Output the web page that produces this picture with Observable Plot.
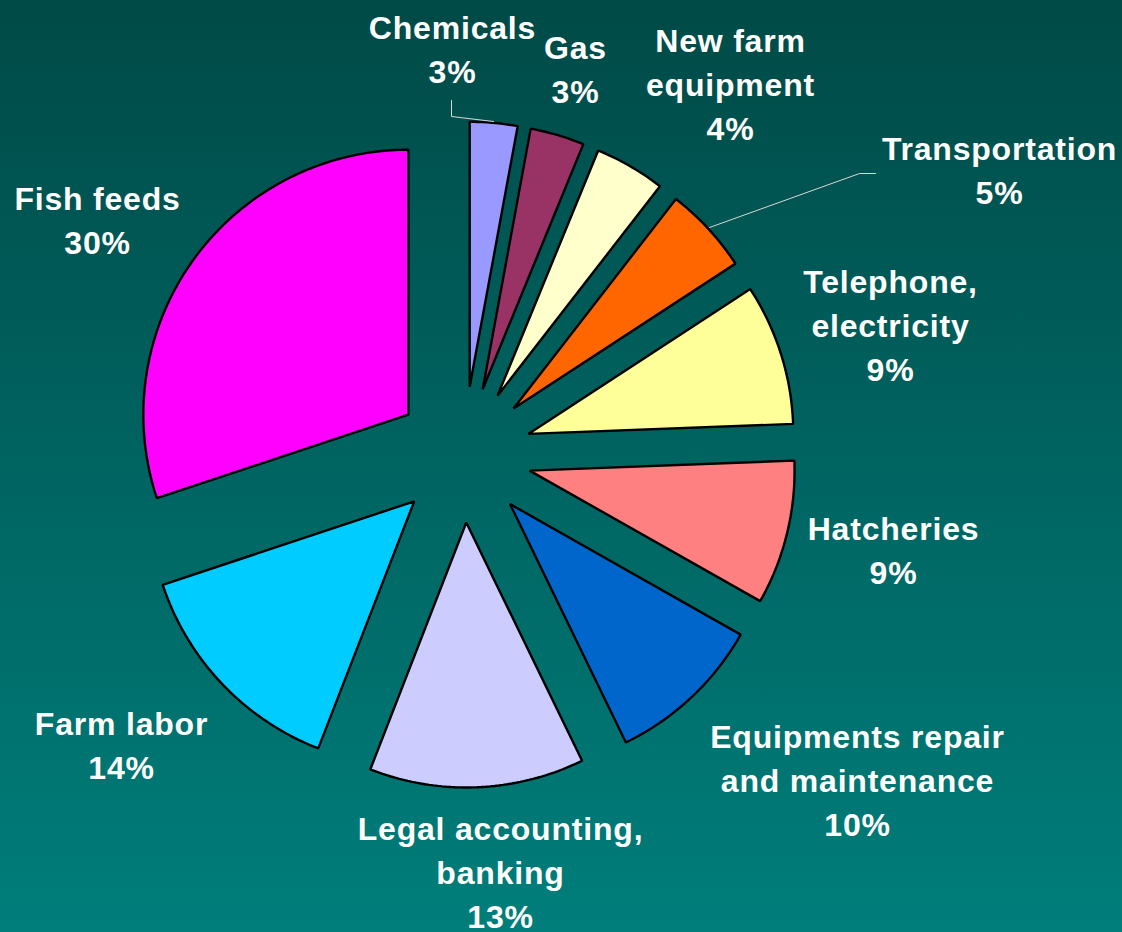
<!DOCTYPE html>
<html><head><meta charset="utf-8">
<script src="https://cdn.jsdelivr.net/npm/d3@7"></script>
<script src="https://cdn.jsdelivr.net/npm/@observablehq/plot@0.6"></script>
<style>
html,body{margin:0;padding:0;}
body{width:1122px;height:932px;overflow:hidden;background:linear-gradient(#004a47,#007e7b);}
#chart svg{display:block;}
</style>
</head><body><div id="chart"></div>
<script>
// ---- data ----
const categories = ["Chemicals","Gas","New farm equipment","Transportation","Telephone, electricity","Hatcheries","Equipments repair and maintenance","Legal accounting, banking","Farm labor","Fish feeds"];
// slice sizes (percent)
const shares = [2.9, 3.3, 4.3, 5.3, 8.6, 8.8, 9.6, 13.1, 14.0, 30.1];
const labelLines = [["Chemicals"],["Gas"],["New farm","equipment"],["Transportation"],["Telephone,","electricity"],["Hatcheries"],["Equipments repair","and maintenance"],["Legal accounting,","banking"],["Farm labor"],["Fish feeds"]];
const sliceColors = ["#9999ff","#993366","#ffffcc","#ff6600","#ffff99","#ff8080","#0066cc","#ccccff","#00ccff","#ff00ff"];

// ---- layout (pixels) ----
const W = 1122, H = 932, CX = 463, CY = 454, R = 265, EXPLODE = 68;
const labelPos = [[452,46],[575,66],[730,81],[999,167],[890,322],[893,547],[857,777],[500,869],[121,742],[97,217]];
const leaderPaths = [[[451,100],[451,116],[493,121]], [[875,173],[859,173],[709,227]]];

const toX = px => (px - CX) / R;
const toY = py => (CY - py) / R;

// ---- slices from d3.pie ----
const arcs = d3.pie().sort(null).value(d => d)(shares);
const slicePts = [];
arcs.forEach((a, i) => {
  const mid = (a.startAngle + a.endAngle) / 2;
  const ox = EXPLODE / R * Math.sin(mid), oy = EXPLODE / R * Math.cos(mid);
  slicePts.push({name: categories[i], x: ox, y: oy});
  const n = Math.max(8, Math.ceil((a.endAngle - a.startAngle) * 60));
  for (let k = 0; k <= n; k++) {
    const ang = a.startAngle + (a.endAngle - a.startAngle) * k / n;
    slicePts.push({name: categories[i], x: ox + Math.sin(ang), y: oy + Math.cos(ang)});
  }
});

const labelData = categories.map((c, i) => ({
  name: c,
  text: labelLines[i].join("\n") + "\n" + Math.round(shares[i]) + "%",
  x: toX(labelPos[i][0]), y: toY(labelPos[i][1])
}));

const leaderData = leaderPaths.flatMap((p, j) => p.map(([px, py]) => ({id: j, x: toX(px), y: toY(py)})));

const chart = Plot.plot({
  width: W, height: H, margin: 0,
  x: {domain: [-CX / R, (W - CX) / R], axis: null},
  y: {domain: [-(H - CY) / R, CY / R], axis: null},
  color: {domain: categories, range: sliceColors},
  style: {background: "transparent", overflow: "visible", letterSpacing: "0.8px"},
  marks: [
    Plot.line(slicePts, {x: "x", y: "y", z: "name", fill: "name", stroke: "black", strokeWidth: 2.4, curve: "linear-closed", strokeLinejoin: "miter"}),
    Plot.line(leaderData, {x: "x", y: "y", z: "id", stroke: "#d8d8d8", strokeWidth: 1}),
    Plot.text(labelData, {x: "x", y: "y", text: "text", fill: "white", fontSize: 32, fontWeight: "bold", fontFamily: "'Liberation Sans', Arial, sans-serif", lineHeight: 1.375, textAnchor: "middle"})
  ]
});
document.getElementById("chart").appendChild(chart);
</script>
</body></html>
